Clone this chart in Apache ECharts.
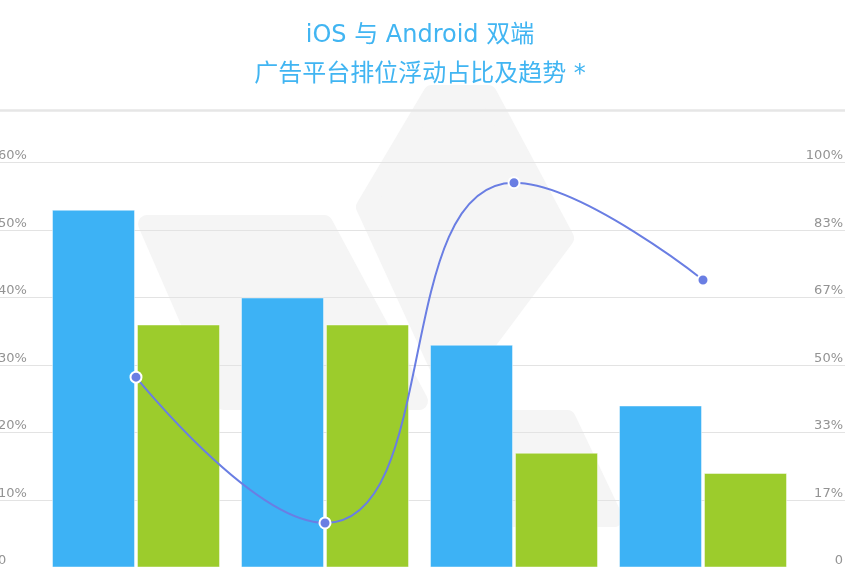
<!DOCTYPE html>
<html>
<head>
<meta charset="utf-8">
<script src="https://cdn.jsdelivr.net/npm/echarts@6/dist/echarts.min.js"></script>
<style>
  html, body { margin: 0; padding: 0; background: #ffffff; }
  #chart { width: 866px; height: 567px; }
</style>
</head>
<body>
<div id="chart"></div>
<script>
const categories = ['第1位', '第2位', '第3位', '第4位'];
const iosValues = [53, 40, 33, 24];
const androidValues = [36, 36, 17, 14];
const trendValues = [47, 11, 95, 71];
const leftTickLabels = ['0', '10%', '20%', '30%', '40%', '50%', '60%'];
const rightTickLabels = ['0', '17%', '33%', '50%', '67%', '83%', '100%'];
const titleText = 'iOS 与 Android 双端\n广告平台排位浮动占比及趋势 *';

const FONT = "'DejaVu Sans', 'Noto Sans CJK SC', sans-serif";
const WM = '#f5f5f5';

const chart = echarts.init(document.getElementById('chart'), null, { renderer: 'canvas' });

function wmPoly(points) {
  return {
    type: 'polygon',
    z: -10,
    silent: true,
    shape: { points: points },
    style: { fill: WM, stroke: WM, lineWidth: 18, lineJoin: 'round' }
  };
}

const option = {
  backgroundColor: '#ffffff',
  animation: false,
  title: {
    text: titleText,
    left: 415,
    top: 11,
    textAlign: 'center',
    textStyle: {
      color: '#41b5f2',
      fontFamily: FONT,
      fontSize: 24,
      fontWeight: 'normal',
      lineHeight: 39
    }
  },
  graphic: [
    wmPoly([[147, 224], [324, 224], [419, 401], [224, 401]]),
    wmPoly([[432, 94], [488, 94], [565, 238], [450, 392], [365, 207]]),
    wmPoly([[449, 419], [567, 419], [614, 518], [497, 518]]),
    {
      type: 'line',
      z: 5,
      silent: true,
      shape: { x1: 0, y1: 110.5, x2: 845, y2: 110.5 },
      style: { stroke: '#e6e6e6', lineWidth: 2.5 }
    }
  ],
  grid: [
    { left: -2, right: 21, top: 162.5, height: 405, outerBoundsMode: 'none', containLabel: false },
    { left: 41.5, width: 756, top: 162.5, height: 405, outerBoundsMode: 'none', containLabel: false }
  ],
  xAxis: [
    { gridIndex: 0, type: 'value', min: 0, max: 1, show: false },
    { gridIndex: 1, type: 'category', data: categories, show: false }
  ],
  yAxis: [
    {
      gridIndex: 0, type: 'value', position: 'left', min: 0, max: 60, interval: 10,
      axisLine: { show: false }, axisTick: { show: false },
      axisLabel: {
        inside: true, margin: 0, verticalAlign: 'bottom',
        color: '#939393', fontFamily: FONT, fontSize: 13,
        formatter: function (v, i) { return leftTickLabels[i]; }
      },
      splitLine: { show: true, lineStyle: { color: '#e3e3e3', width: 1 } }
    },
    {
      gridIndex: 0, type: 'value', position: 'right', min: 0, max: 6, interval: 1,
      axisLine: { show: false }, axisTick: { show: false },
      axisLabel: {
        inside: true, margin: 2, verticalAlign: 'bottom',
        color: '#939393', fontFamily: FONT, fontSize: 13,
        formatter: function (v, i) { return rightTickLabels[i]; }
      },
      splitLine: { show: false }
    },
    { gridIndex: 1, type: 'value', min: 0, max: 60, show: false },
    { gridIndex: 1, type: 'value', min: 0, max: 100, show: false, position: 'right' }
  ],
  series: [
    {
      name: 'iOS',
      type: 'bar',
      xAxisIndex: 1, yAxisIndex: 2,
      data: iosValues,
      barWidth: 83,
      barGap: '2.4%',
      itemStyle: { color: '#3db2f5', borderColor: 'rgba(255,255,255,0.45)', borderWidth: 1 }
    },
    {
      name: 'Android',
      type: 'bar',
      xAxisIndex: 1, yAxisIndex: 2,
      data: androidValues,
      barWidth: 83,
      barGap: '2.4%',
      itemStyle: { color: '#9ccc2c', borderColor: 'rgba(255,255,255,0.45)', borderWidth: 1 }
    },
    {
      name: '趋势',
      type: 'line',
      xAxisIndex: 1, yAxisIndex: 3,
      data: trendValues,
      smooth: true,
      symbol: 'circle',
      symbolSize: 11,
      z: 10,
      lineStyle: { color: '#6a7ee3', width: 2 },
      itemStyle: { color: '#6a7ee3', borderColor: '#ffffff', borderWidth: 2 }
    }
  ]
};

chart.setOption(option);
</script>
</body>
</html>
